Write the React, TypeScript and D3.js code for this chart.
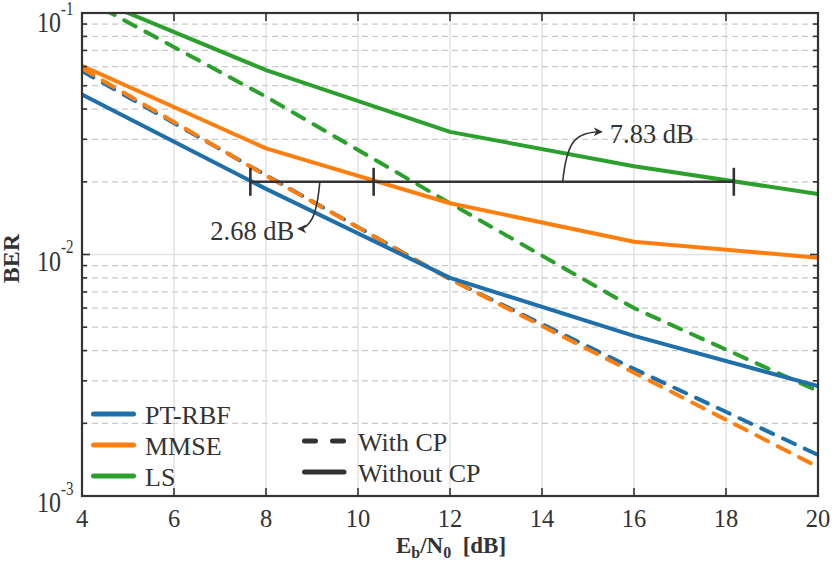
import * as d3 from "d3";

const snr = [4, 8, 12, 16, 20];

// Without CP (solid)
const rbfNoCp = [0.046, 0.0187, 0.008, 0.0046, 0.00285];
const mmseNoCp = [0.0605, 0.0275, 0.0163, 0.0113, 0.0097];
const lsNoCp = [0.12, 0.058, 0.0322, 0.0232, 0.0178];

// With CP (dashed)
const rbfCp = [0.0575, 0.0213, 0.0079, 0.00336, 0.00148];
const mmseCp = [0.059, 0.0212, 0.0079, 0.00324, 0.00132];
const lsCp = [0.116, 0.045, 0.0163, 0.006, 0.00272];

const methods = ["PT-RBF", "MMSE", "LS"];
const colors = ["#1f6fab", "#ff7f0e", "#2ca02c"];
const styles = ["With CP", "Without CP"];

const xTicks = [4, 6, 8, 10, 12, 14, 16, 18, 20];
const yExps = [-1, -2, -3];

// gap markers at BER = 2e-2
const gapBer = 0.02;
const gapX = [7.66, 10.34, 18.17];
const gapLabels = ["2.68 dB", "7.83 dB"];

const W = 832;
const H = 569;
const m = { left: 82, right: 14, top: 13, bottom: 73 };
const font = "'Liberation Serif', 'Times New Roman', serif";
const ink = "#333333";

export default function App() {
  const x = d3.scaleLinear().domain([4, 20]).range([m.left, W - m.right]);
  const y = d3.scaleLog().domain([1e-3, 1e-1]).range([H - m.bottom, m.top]);
  const x0 = x.range()[0];
  const x1 = x.range()[1];
  const y0 = y.range()[0];
  const y1 = y.range()[1];

  const line = d3
    .line<[number, number]>()
    .x(d => x(d[0]))
    .y(d => y(d[1]));

  const series = [
    { vals: rbfCp, c: 0, dash: true },
    { vals: mmseCp, c: 1, dash: true },
    { vals: lsCp, c: 2, dash: true },
    { vals: lsNoCp, c: 2, dash: false },
    { vals: mmseNoCp, c: 1, dash: false },
    { vals: rbfNoCp, c: 0, dash: false }
  ];

  const minors: number[] = [];
  for (let e = -3; e < -1; e++) {
    for (let k = 2; k <= 9; k++) minors.push(k * Math.pow(10, e));
  }

  const gy = y(gapBer);

  // annotation arrow paths (anchored in data coordinates)
  const a1s = [x(9.17), gy];
  const a1e = [x(8.7), gy + 47];
  const a2s = [x(14.45), gy];
  const a2e = [x(15.3), gy - 50];

  return (
    <svg
      width={W}
      height={H}
      style={{ position: "absolute", left: 0, top: 0, background: "#fff" }}
      fontFamily={font}
    >
      <defs>
        <clipPath id="plot">
          <rect x={x0} y={y1} width={x1 - x0} height={y0 - y1} />
        </clipPath>
        <marker id="ah" viewBox="0 0 10 10" refX="9" refY="5" markerWidth="9" markerHeight="9" orient="auto" markerUnits="userSpaceOnUse">
          <path d="M0,0 L10,5 L0,10 L3,5 Z" fill={ink} />
        </marker>
      </defs>

      {/* grid */}
      {xTicks.slice(1, -1).map(t => (
        <line key={t} x1={x(t)} x2={x(t)} y1={y1} y2={y0} stroke="#e2e2e2" strokeWidth={1.5} />
      ))}
      {minors.map(v => (
        <line key={v} x1={x0} x2={x1} y1={y(v)} y2={y(v)} stroke="#c9c9c9" strokeWidth={1.2} strokeDasharray="6 4" />
      ))}
      <line x1={x0} x2={x1} y1={y(1e-2)} y2={y(1e-2)} stroke="#e2e2e2" strokeWidth={1.5} />

      {/* curves */}
      <g clipPath="url(#plot)" fill="none">
        {series.map((s, i) => (
          <path
            key={i}
            d={line(snr.map((v, j) => [v, s.vals[j]] as [number, number])) || undefined}
            stroke={colors[s.c]}
            strokeWidth={4}
            strokeLinecap="round"
            strokeLinejoin="round"
            strokeDasharray={s.dash ? "13 11" : undefined}
          />
        ))}
      </g>

      {/* gap bar */}
      <g stroke={ink} strokeWidth={2.6}>
        <line x1={x(gapX[0])} x2={x(gapX[2])} y1={gy} y2={gy} />
        {gapX.map(v => (
          <line key={v} x1={x(v)} x2={x(v)} y1={gy - 14} y2={gy + 14} />
        ))}
      </g>
      <g fill="none" stroke={ink} strokeWidth={1.6}>
        <path
          d={`M${a1s[0]},${a1s[1]} C${a1s[0] - 3},${a1s[1] + 35} ${a1s[0] - 10},${a1e[1]} ${a1e[0]},${a1e[1]}`}
          markerEnd="url(#ah)"
        />
        <path
          d={`M${a2s[0]},${a2s[1]} C${a2s[0] + 4},${a2s[1] - 40} ${a2s[0] + 12},${a2e[1]} ${a2e[0]},${a2e[1]}`}
          markerEnd="url(#ah)"
        />
      </g>
      <text x={a1e[0] - 4} y={a1e[1] + 11} fontSize={26.5} fill={ink} textAnchor="end">
        {gapLabels[0]}
      </text>
      <text x={a2e[0] + 8} y={a2e[1] + 11} fontSize={26.5} fill={ink}>
        {gapLabels[1]}
      </text>

      {/* axes box and ticks */}
      <rect x={x0} y={y1} width={x1 - x0} height={y0 - y1} fill="none" stroke={ink} strokeWidth={2.2} />
      <g stroke={ink} strokeWidth={1.6}>
        {xTicks.map(t => (
          <g key={t}>
            <line x1={x(t)} x2={x(t)} y1={y0} y2={y0 - 8} />
            <line x1={x(t)} x2={x(t)} y1={y1} y2={y1 + 8} />
          </g>
        ))}
        {yExps.map(e => (
          <g key={e}>
            <line x1={x0} x2={x0 + 8} y1={y(Math.pow(10, e))} y2={y(Math.pow(10, e))} />
            <line x1={x1} x2={x1 - 8} y1={y(Math.pow(10, e))} y2={y(Math.pow(10, e))} />
          </g>
        ))}
        {minors.map(v => (
          <g key={v}>
            <line x1={x0} x2={x0 + 5} y1={y(v)} y2={y(v)} />
            <line x1={x1} x2={x1 - 5} y1={y(v)} y2={y(v)} />
          </g>
        ))}
      </g>

      {/* tick labels */}
      {xTicks.map(t => (
        <text key={t} x={x(t)} y={y0 + 31} fontSize={24.5} fill={ink} textAnchor="middle">
          {t}
        </text>
      ))}
      {yExps.map(e => (
        <g key={e} transform={`translate(37,${Math.max(y(Math.pow(10, e)) + 16, 32)}) scale(1,1.2)`}>
          <text x={0} y={0} fontSize={24} fill={ink}>
            10
            <tspan dy={-14.5} fontSize={15}>
              {String(e)}
            </tspan>
          </text>
        </g>
      ))}

      {/* axis labels */}
      <text x={(x0 + x1) / 2 + 1} y={553} fontSize={23} fontWeight="bold" fill={ink} textAnchor="middle">
        E<tspan dy={5} fontSize={16}>b</tspan>
        <tspan dy={-5}>/N</tspan>
        <tspan dy={5} fontSize={16}>0</tspan>
        <tspan dy={-5}>{"\u00a0\u00a0[dB]"}</tspan>
      </text>
      <text
        transform={`translate(19,${(y0 + y1) / 2 + 4}) rotate(-90)`}
        fontSize={24}
        fontWeight="bold"
        fill={ink}
        textAnchor="middle"
      >
        BER
      </text>

      {/* legend: methods */}
      {methods.map((name, i) => (
        <g key={name} transform={`translate(0,${414 + i * 31})`}>
          <line x1={93.5} x2={133.5} y1={0} y2={0} stroke={colors[i]} strokeWidth={5} strokeLinecap="round" />
          <text x={145} y={10} fontSize={26} fill={ink}>
            {name}
          </text>
        </g>
      ))}
      {/* legend: line styles */}
      {styles.map((name, i) => (
        <g key={name} transform={`translate(0,${441 + i * 31})`}>
          <line
            x1={304.5}
            x2={344}
            y1={0}
            y2={0}
            stroke={ink}
            strokeWidth={5}
            strokeLinecap="round"
            strokeDasharray={i === 0 ? "11 17" : undefined}
          />
          <text x={358} y={10} fontSize={26} fill={ink}>
            {name}
          </text>
        </g>
      ))}
    </svg>
  );
}
